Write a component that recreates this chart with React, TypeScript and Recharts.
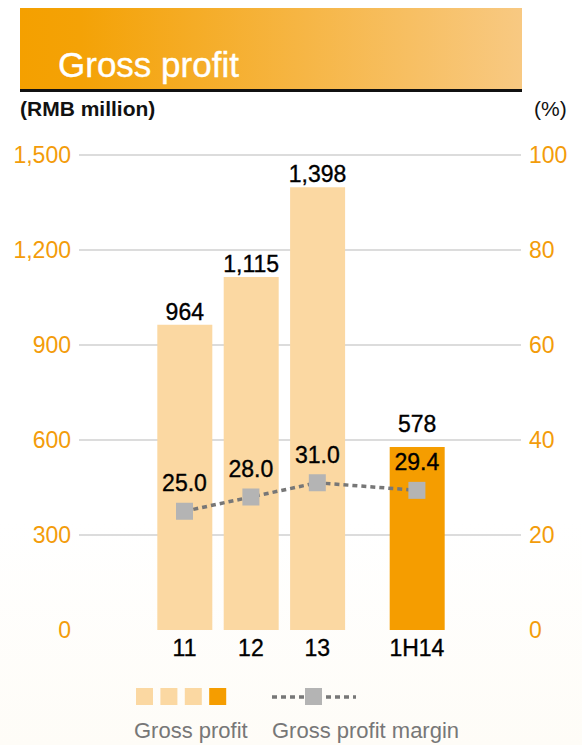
import React from 'react';
import {
  ComposedChart,
  Bar,
  Line,
  XAxis,
  YAxis,
  CartesianGrid,
  Cell,
  LabelList,
} from 'recharts';

const categories = ['11', '12', '13', '1H14'];
const positions = [0, 1, 2, 3.5];
const grossProfit = [964, 1115, 1398, 578];
const grossMargin = [25.0, 28.0, 31.0, 29.4];
const leftTicks = [0, 300, 600, 900, 1200, 1500];
const rightTicks = [0, 20, 40, 60, 80, 100];

const data = categories.map((c, i) => ({
  cat: c,
  pos: positions[i],
  profit: grossProfit[i],
  margin: grossMargin[i],
}));

const FONT = '"Liberation Sans", Arial, Helvetica, sans-serif';
const ORANGE = '#f39c0a';
const LIGHT = '#fbd8a2';
const DARK = '#f59d00';
const GRAY_MARK = '#b4b4b4';
const LINE_GRAY = '#777777';

const fmt = (v: number) => v.toLocaleString('en-US');

const BarLabel = (props: any) => {
  const { x, y, width, value, index } = props;
  const lift = index === categories.length - 1 ? 15 : 5;
  return (
    <text
      x={x + width / 2}
      y={y - lift}
      textAnchor="middle"
      fontSize={23}
      fontFamily={FONT}
      fill="#000"
      stroke="#000"
      strokeWidth={0.35}
    >
      {fmt(value)}
    </text>
  );
};

const LineLabel = (props: any) => {
  const { x, y, value } = props;
  return (
    <text
      x={x}
      y={y - 20}
      textAnchor="middle"
      fontSize={23}
      fontFamily={FONT}
      fill="#000"
      stroke="#000"
      strokeWidth={0.35}
    >
      {Number(value).toFixed(1)}
    </text>
  );
};

const SquareDot = (props: any) => {
  const { cx, cy, index } = props;
  return <rect key={`d${index}`} x={cx - 8.5} y={cy - 8.5} width={17} height={17} fill={GRAY_MARK} />;
};

export default function App() {
  return (
    <div
      style={{
        position: 'absolute',
        left: 0,
        top: 0,
        width: 582,
        height: 745,
        background: 'linear-gradient(180deg, #ffffff 0%, #ffffff 70%, #fefcf7 100%)',
        fontFamily: FONT,
        overflow: 'hidden',
      }}
    >
      <svg width={582} height={745} style={{ position: 'absolute', left: 0, top: 0 }}>
        <defs>
          <linearGradient id="banner" x1="0" y1="0" x2="1" y2="0">
            <stop offset="0%" stopColor="#f4a000" />
            <stop offset="12%" stopColor="#f4a206" />
            <stop offset="100%" stopColor="#f8c982" />
          </linearGradient>
        </defs>
        <rect x={20} y={8} width={502} height={82} fill="url(#banner)" />
        <rect x={20} y={89} width={502} height={3} fill="#111" />
        <text x={58} y={77} fontSize={35} fill="#ffffff" stroke="#ffffff" strokeWidth={0.4} fontFamily={FONT}>
          Gross profit
        </text>
        <text x={20} y={116} fontSize={21} fontWeight="bold" fill="#111" fontFamily={FONT}>
          (RMB million)
        </text>
        <text x={534} y={116} fontSize={21} fill="#111" fontFamily={FONT}>
          (%)
        </text>
        {categories.map((c, i) => (
          <rect
            key={c}
            x={136 + i * 24.4}
            y={688}
            width={17}
            height={17}
            fill={i === categories.length - 1 ? DARK : LIGHT}
          />
        ))}
        <line x1={272} y1={697} x2={356} y2={697} stroke={LINE_GRAY} strokeWidth={3.5} strokeDasharray="5 4" />
        <rect x={305} y={688} width={17} height={17} fill={GRAY_MARK} />
        <text x={134} y={738} fontSize={22} fill="#777" fontFamily={FONT}>
          Gross profit
        </text>
        <text x={272} y={738} fontSize={22} fill="#777" fontFamily={FONT}>
          Gross profit margin
        </text>
      </svg>
      <div style={{ position: 'absolute', left: 0, top: 0 }}>
        <ComposedChart
          width={582}
          height={745}
          data={data}
          margin={{ top: 155, right: 0, bottom: 0, left: 0 }}
        >
          <CartesianGrid
            yAxisId="left"
            horizontal
            vertical={false}
            stroke="#dcdcdc"
            strokeWidth={2}
            horizontalValues={[300, 600, 900, 1200, 1500]}
          />
          <XAxis
            dataKey="pos"
            type="number"
            domain={[-1.589, 5.068]}
            ticks={positions}
            tickFormatter={(v: number) => categories[positions.indexOf(v)] ?? ''}
            axisLine={false}
            tickLine={false}
            height={115}
            tickMargin={4}
            interval={0}
            tick={{ fill: '#000', stroke: '#000', strokeWidth: 0.35, fontSize: 23, fontFamily: FONT }}
          />
          <YAxis
            yAxisId="left"
            orientation="left"
            width={79}
            domain={[0, 1500]}
            ticks={leftTicks}
            tickFormatter={fmt}
            axisLine={false}
            tickLine={false}
            interval={0}
            tick={{ fill: ORANGE, fontSize: 23, fontFamily: FONT }}
          />
          <YAxis
            yAxisId="right"
            orientation="right"
            width={61}
            domain={[0, 100]}
            ticks={rightTicks}
            axisLine={false}
            tickLine={false}
            interval={0}
            tick={{ fill: ORANGE, fontSize: 23, fontFamily: FONT }}
          />
          <Bar yAxisId="left" dataKey="profit" barSize={55} isAnimationActive={false}>
            {data.map((d, i) => (
              <Cell key={d.cat} fill={i === data.length - 1 ? DARK : LIGHT} />
            ))}
            <LabelList dataKey="profit" content={BarLabel} />
          </Bar>
          <Line
            yAxisId="right"
            dataKey="margin"
            type="linear"
            stroke={LINE_GRAY}
            strokeWidth={3.5}
            strokeDasharray="5 4"
            dot={SquareDot}
            activeDot={false}
            isAnimationActive={false}
          >
            <LabelList dataKey="margin" content={LineLabel} />
          </Line>
        </ComposedChart>
      </div>
    </div>
  );
}
